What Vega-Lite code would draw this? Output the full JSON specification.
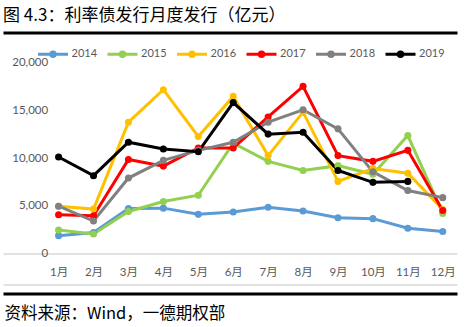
{
  "$schema": "https://vega.github.io/schema/vega-lite/v6.json",
  "autosize": {"type": "none"},
  "padding": {"left": 3, "top": 32.5, "right": 10, "bottom": 33.5},
  "width": 454,
  "height": 261,
  "background": "white",
  "config": {"view": {"stroke": null}, "font": "Noto Sans CJK SC"},
  "title": {"text": "图 4.3：利率债发行月度发行（亿元）", "anchor": "start", "frame": "group", "offset": 2, "fontSize": 17, "fontWeight": "normal", "color": "#000000", "font": "Noto Sans CJK SC"},
  "data": {"values": [
    {"year": "2014", "month": "1月", "value": 1870},
    {"year": "2014", "month": "2月", "value": 2200},
    {"year": "2014", "month": "3月", "value": 4700},
    {"year": "2014", "month": "4月", "value": 4750},
    {"year": "2014", "month": "5月", "value": 4100},
    {"year": "2014", "month": "6月", "value": 4350},
    {"year": "2014", "month": "7月", "value": 4850},
    {"year": "2014", "month": "8月", "value": 4450},
    {"year": "2014", "month": "9月", "value": 3750},
    {"year": "2014", "month": "10月", "value": 3650},
    {"year": "2014", "month": "11月", "value": 2650},
    {"year": "2014", "month": "12月", "value": 2300},
    {"year": "2015", "month": "1月", "value": 2450},
    {"year": "2015", "month": "2月", "value": 2050},
    {"year": "2015", "month": "3月", "value": 4400},
    {"year": "2015", "month": "4月", "value": 5450},
    {"year": "2015", "month": "5月", "value": 6100},
    {"year": "2015", "month": "6月", "value": 11550},
    {"year": "2015", "month": "7月", "value": 9650},
    {"year": "2015", "month": "8月", "value": 8700},
    {"year": "2015", "month": "9月", "value": 9200},
    {"year": "2015", "month": "10月", "value": 8300},
    {"year": "2015", "month": "11月", "value": 12350},
    {"year": "2015", "month": "12月", "value": 4200},
    {"year": "2016", "month": "1月", "value": 4950},
    {"year": "2016", "month": "2月", "value": 4650},
    {"year": "2016", "month": "3月", "value": 13750},
    {"year": "2016", "month": "4月", "value": 17150},
    {"year": "2016", "month": "5月", "value": 12250},
    {"year": "2016", "month": "6月", "value": 16450},
    {"year": "2016", "month": "7月", "value": 10250},
    {"year": "2016", "month": "8月", "value": 14800},
    {"year": "2016", "month": "9月", "value": 7550},
    {"year": "2016", "month": "10月", "value": 8900},
    {"year": "2016", "month": "11月", "value": 8400},
    {"year": "2016", "month": "12月", "value": 4600},
    {"year": "2017", "month": "1月", "value": 4050},
    {"year": "2017", "month": "2月", "value": 3950},
    {"year": "2017", "month": "3月", "value": 9850},
    {"year": "2017", "month": "4月", "value": 9150},
    {"year": "2017", "month": "5月", "value": 11050},
    {"year": "2017", "month": "6月", "value": 11050},
    {"year": "2017", "month": "7月", "value": 14300},
    {"year": "2017", "month": "8月", "value": 17500},
    {"year": "2017", "month": "9月", "value": 10250},
    {"year": "2017", "month": "10月", "value": 9650},
    {"year": "2017", "month": "11月", "value": 10800},
    {"year": "2017", "month": "12月", "value": 4500},
    {"year": "2018", "month": "1月", "value": 4950},
    {"year": "2018", "month": "2月", "value": 3400},
    {"year": "2018", "month": "3月", "value": 7900},
    {"year": "2018", "month": "4月", "value": 9750},
    {"year": "2018", "month": "5月", "value": 10800},
    {"year": "2018", "month": "6月", "value": 11650},
    {"year": "2018", "month": "7月", "value": 13750},
    {"year": "2018", "month": "8月", "value": 15050},
    {"year": "2018", "month": "9月", "value": 13050},
    {"year": "2018", "month": "10月", "value": 8550},
    {"year": "2018", "month": "11月", "value": 6600},
    {"year": "2018", "month": "12月", "value": 5850},
    {"year": "2019", "month": "1月", "value": 10100},
    {"year": "2019", "month": "2月", "value": 8150},
    {"year": "2019", "month": "3月", "value": 11650},
    {"year": "2019", "month": "4月", "value": 10950},
    {"year": "2019", "month": "5月", "value": 10650},
    {"year": "2019", "month": "6月", "value": 15800},
    {"year": "2019", "month": "7月", "value": 12500},
    {"year": "2019", "month": "8月", "value": 12700},
    {"year": "2019", "month": "9月", "value": 8700},
    {"year": "2019", "month": "10月", "value": 7450},
    {"year": "2019", "month": "11月", "value": 7550}
  ]},
  "mark": {"type": "line", "strokeWidth": 3, "point": {"filled": true, "size": 50}},
  "encoding": {
    "x": {
      "field": "month", "type": "ordinal",
      "sort": ["1月", "2月", "3月", "4月", "5月", "6月", "7月", "8月", "9月", "10月", "11月", "12月"],
      "scale": {"type": "point", "padding": 1.465, "align": 0.796},
      "axis": {
        "title": "资料来源：Wind，一德期权部",
        "titleFont": "Noto Sans CJK SC", "titleFontSize": 16.5, "titleFontWeight": "normal", "titleColor": "#000000",
        "titleAnchor": "start", "titleAlign": "left", "titleBaseline": "middle", "titleX": 1, "titleY": 19.5,
        "labelAngle": 0, "ticks": false, "grid": false,
        "domainColor": "#000000", "domainWidth": 3,
        "labelPadding": -26.7, "labelFontSize": 11.5, "labelColor": "#595959", "labelFont": "Lato, Noto Sans CJK SC"
      }
    },
    "y": {
      "field": "value", "type": "quantitative",
      "scale": {"domain": [-4188, 23141], "nice": false, "zero": false},
      "axis": {
        "title": null,
        "values": [-3194, 0, 5000, 10000, 15000, 20000, 23141],
        "format": ",.0f",
        "offset": -59.7,
        "domain": false, "ticks": false,
        "labelPadding": 15, "labelOverlap": false,
        "labelFontSize": 11.5, "labelColor": "#595959", "labelFont": "Lato",
        "labelOpacity": {"condition": {"test": "datum.value < 0 || datum.value > 20000", "value": 0}, "value": 1},
        "grid": true,
        "gridColor": {"condition": {"test": "datum.value > 20000", "value": "#000000"}, "value": "#d9d9d9"},
        "gridOpacity": {"condition": {"test": "datum.value > 0 && datum.value <= 20000", "value": 0}, "value": 1},
        "gridWidth": {"condition": {"test": "datum.value > 20000", "value": 3}, "value": 1.5}
      }
    },
    "color": {
      "field": "year", "type": "nominal",
      "scale": {"domain": ["2014", "2015", "2016", "2017", "2018", "2019"], "range": ["#5B9BD5", "#92D050", "#FFC000", "#FF0000", "#808080", "#000000"]},
      "legend": {"title": null, "orient": "none", "legendX": 39, "legendY": 15, "direction": "horizontal", "columns": 6, "symbolType": "M-3,0H3M0.45,0A0.45,0.45,0,1,1,-0.45,0A0.45,0.45,0,1,1,0.45,0", "symbolSize": 100, "symbolStrokeWidth": 3, "symbolOffset": 4.5, "labelOffset": 12, "columnPadding": 3.5, "labelFontSize": 11, "labelColor": "#595959", "labelFont": "Lato", "padding": 0}
    }
  }
}
